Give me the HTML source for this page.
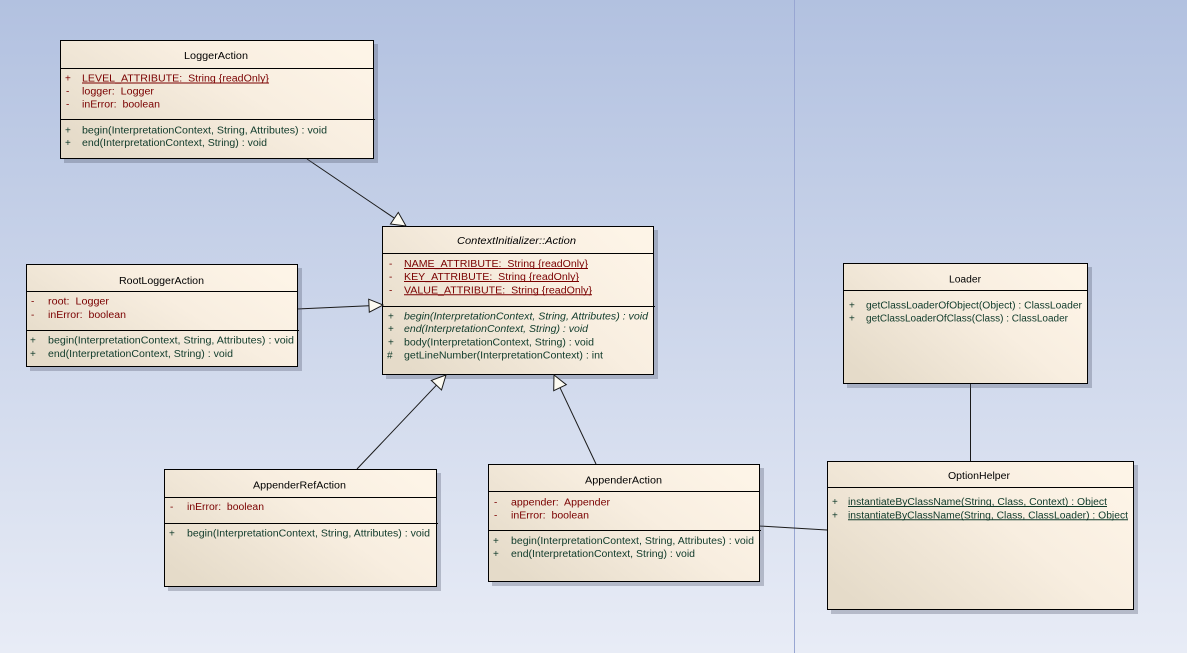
<!DOCTYPE html>
<html><head><meta charset="utf-8"><style>
html,body{margin:0;padding:0;width:1187px;height:653px;overflow:hidden;}
svg{display:block;}
text{font-family:"Liberation Sans",Arial,sans-serif;font-size:10px;white-space:pre;}
.t{fill:#000;}
.a{fill:#7a0000;}
.m{fill:#0f3a2a;}
.i{font-style:italic;}
</style></head><body>
<svg width="1187" height="653" viewBox="0 0 1187 653" xmlns="http://www.w3.org/2000/svg" xml:space="preserve">
<defs>
<linearGradient id="bg" x1="0" y1="0" x2="0" y2="1">
<stop offset="0" stop-color="#b2c1e0"/>
<stop offset="1" stop-color="#e8ecf6"/>
</linearGradient>
<linearGradient id="bx" x1="0" y1="0.8" x2="1" y2="0.2">
<stop offset="0" stop-color="#e5dbc9"/>
<stop offset="0.6" stop-color="#f8eee0"/>
<stop offset="1" stop-color="#fdf4e7"/>
</linearGradient>
</defs>
<rect x="0" y="0" width="1187" height="653" fill="url(#bg)"/>
<line x1="794.5" y1="0" x2="794.5" y2="653" stroke="#98a6d2" stroke-width="1"/>

<g stroke="#1a1a1a" stroke-width="1" fill="none">
<line x1="307" y1="159" x2="394.4" y2="218.2"/>
<line x1="297" y1="309" x2="369" y2="305.7"/>
<line x1="357" y1="469" x2="436.4" y2="385.2"/>
<line x1="596" y1="464" x2="560" y2="387.7"/>
<line x1="759" y1="526" x2="827" y2="530"/>
<line x1="970.5" y1="383" x2="970.5" y2="461"/>
</g>

<g fill="rgba(80,86,110,0.32)">
<rect x="64" y="44" width="314" height="119"/>
<rect x="386" y="230" width="272" height="149"/>
<rect x="30" y="268" width="272" height="103"/>
<rect x="168" y="473" width="273" height="118"/>
<rect x="492" y="468" width="272" height="118"/>
<rect x="847" y="267" width="245" height="121"/>
<rect x="831" y="465" width="307" height="149"/>
</g>

<g fill="url(#bx)" stroke="#000" stroke-width="1">
<rect x="60.5" y="40.5" width="313" height="118"/>
<rect x="382.5" y="226.5" width="271" height="148"/>
<rect x="26.5" y="264.5" width="271" height="102"/>
<rect x="164.5" y="469.5" width="272" height="117"/>
<rect x="488.5" y="464.5" width="271" height="117"/>
<rect x="843.5" y="263.5" width="244" height="120"/>
<rect x="827.5" y="461.5" width="306" height="148"/>
</g>
<g stroke="#000" stroke-width="1">
<line x1="60" y1="68.5" x2="374" y2="68.5"/>
<line x1="60" y1="119.5" x2="375" y2="119.5"/>
<line x1="382" y1="253.5" x2="654" y2="253.5"/>
<line x1="382" y1="306.5" x2="655" y2="306.5"/>
<line x1="26" y1="291.5" x2="298" y2="291.5"/>
<line x1="26" y1="330.5" x2="299" y2="330.5"/>
<line x1="164" y1="497.5" x2="437" y2="497.5"/>
<line x1="164" y1="523.5" x2="438" y2="523.5"/>
<line x1="488" y1="491.5" x2="760" y2="491.5"/>
<line x1="488" y1="530.5" x2="761" y2="530.5"/>
<line x1="843" y1="290.5" x2="1088" y2="290.5"/>
<line x1="827" y1="487.5" x2="1134" y2="487.5"/>
</g>

<g fill="#fdfbf2" stroke="#1a1a1a" stroke-width="1" stroke-linejoin="miter">
<polygon points="406,226 390.5,224 398.3,212.4"/>
<polygon points="383,305 369.3,312.2 368.7,299.2"/>
<polygon points="446,375 441.5,390 431.3,380.4"/>
<polygon points="554,375 566.3,384.7 553.7,390.7"/>
</g>

<text class="t" x="184" y="59.2" textLength="64" lengthAdjust="spacingAndGlyphs">LoggerAction</text>
<text class="a" x="65" y="81.7">+</text>
<text class="a" x="82" y="81.7" textLength="187" lengthAdjust="spacingAndGlyphs">LEVEL_ATTRIBUTE:  String {readOnly}</text>
<line x1="82" y1="83" x2="269" y2="83" stroke="#7a0000" stroke-width="1"/>
<text class="a" x="66" y="94.4">-</text>
<text class="a" x="82" y="94.4" textLength="72" lengthAdjust="spacingAndGlyphs">logger:  Logger</text>
<text class="a" x="66" y="107.4">-</text>
<text class="a" x="82" y="107.4" textLength="78" lengthAdjust="spacingAndGlyphs">inError:  boolean</text>
<text class="m" x="65" y="133.4">+</text>
<text class="m" x="82" y="133.4" textLength="245" lengthAdjust="spacingAndGlyphs">begin(InterpretationContext, String, Attributes) : void</text>
<text class="m" x="65" y="146.1">+</text>
<text class="m" x="82" y="146.1" textLength="185" lengthAdjust="spacingAndGlyphs">end(InterpretationContext, String) : void</text>

<text class="t i" x="457" y="244.1" textLength="119" lengthAdjust="spacingAndGlyphs">ContextInitializer::Action</text>
<text class="a" x="389" y="267.1">-</text>
<text class="a" x="404" y="267.1" textLength="184" lengthAdjust="spacingAndGlyphs">NAME_ATTRIBUTE:  String {readOnly}</text>
<line x1="404" y1="268.5" x2="588" y2="268.5" stroke="#7a0000" stroke-width="1"/>
<text class="a" x="389" y="280.1">-</text>
<text class="a" x="404" y="280.1" textLength="175" lengthAdjust="spacingAndGlyphs">KEY_ATTRIBUTE:  String {readOnly}</text>
<line x1="404" y1="281.5" x2="579" y2="281.5" stroke="#7a0000" stroke-width="1"/>
<text class="a" x="389" y="293.4">-</text>
<text class="a" x="404" y="293.4" textLength="188" lengthAdjust="spacingAndGlyphs">VALUE_ATTRIBUTE:  String {readOnly}</text>
<line x1="404" y1="294.8" x2="592" y2="294.8" stroke="#7a0000" stroke-width="1"/>
<text class="m" x="388" y="319.4">+</text>
<text class="m i" x="404" y="319.4" textLength="244" lengthAdjust="spacingAndGlyphs">begin(InterpretationContext, String, Attributes) : void</text>
<text class="m" x="388" y="332.1">+</text>
<text class="m i" x="404" y="332.1" textLength="184" lengthAdjust="spacingAndGlyphs">end(InterpretationContext, String) : void</text>
<text class="m" x="388" y="345.4">+</text>
<text class="m" x="404" y="345.4" textLength="190" lengthAdjust="spacingAndGlyphs">body(InterpretationContext, String) : void</text>
<text class="m" x="387" y="358.4">#</text>
<text class="m" x="404" y="358.4" textLength="199" lengthAdjust="spacingAndGlyphs">getLineNumber(InterpretationContext) : int</text>

<text class="t" x="119" y="284.1" textLength="85" lengthAdjust="spacingAndGlyphs">RootLoggerAction</text>
<text class="a" x="31" y="304.7">-</text>
<text class="a" x="48" y="304.7" textLength="61" lengthAdjust="spacingAndGlyphs">root:  Logger</text>
<text class="a" x="31" y="318.1">-</text>
<text class="a" x="48" y="318.1" textLength="78" lengthAdjust="spacingAndGlyphs">inError:  boolean</text>
<text class="m" x="30" y="343.7">+</text>
<text class="m" x="48" y="343.7" textLength="246" lengthAdjust="spacingAndGlyphs">begin(InterpretationContext, String, Attributes) : void</text>
<text class="m" x="30" y="357.1">+</text>
<text class="m" x="48" y="357.1" textLength="185" lengthAdjust="spacingAndGlyphs">end(InterpretationContext, String) : void</text>

<text class="t" x="253" y="488.4" textLength="93" lengthAdjust="spacingAndGlyphs">AppenderRefAction</text>
<text class="a" x="170" y="510.1">-</text>
<text class="a" x="187" y="510.1" textLength="77" lengthAdjust="spacingAndGlyphs">inError:  boolean</text>
<text class="m" x="169" y="536.7">+</text>
<text class="m" x="187" y="536.7" textLength="243" lengthAdjust="spacingAndGlyphs">begin(InterpretationContext, String, Attributes) : void</text>

<text class="t" x="585" y="483.4" textLength="77" lengthAdjust="spacingAndGlyphs">AppenderAction</text>
<text class="a" x="494" y="505.4">-</text>
<text class="a" x="511" y="505.4" textLength="99" lengthAdjust="spacingAndGlyphs">appender:  Appender</text>
<text class="a" x="494" y="518.4">-</text>
<text class="a" x="511" y="518.4" textLength="78" lengthAdjust="spacingAndGlyphs">inError:  boolean</text>
<text class="m" x="493" y="544.1">+</text>
<text class="m" x="511" y="544.1" textLength="243" lengthAdjust="spacingAndGlyphs">begin(InterpretationContext, String, Attributes) : void</text>
<text class="m" x="493" y="557.1">+</text>
<text class="m" x="511" y="557.1" textLength="184" lengthAdjust="spacingAndGlyphs">end(InterpretationContext, String) : void</text>

<text class="t" x="949" y="282.4" textLength="32" lengthAdjust="spacingAndGlyphs">Loader</text>
<text class="m" x="849" y="308.4">+</text>
<text class="m" x="866" y="308.4" textLength="216" lengthAdjust="spacingAndGlyphs">getClassLoaderOfObject(Object) : ClassLoader</text>
<text class="m" x="849" y="321.4">+</text>
<text class="m" x="866" y="321.4" textLength="202" lengthAdjust="spacingAndGlyphs">getClassLoaderOfClass(Class) : ClassLoader</text>

<text class="t" x="948" y="479.1" textLength="62" lengthAdjust="spacingAndGlyphs">OptionHelper</text>
<text class="m" x="832" y="505.1">+</text>
<text class="m" x="848" y="505.1" textLength="259" lengthAdjust="spacingAndGlyphs">instantiateByClassName(String, Class, Context) : Object</text>
<line x1="848" y1="506.5" x2="1107" y2="506.5" stroke="#0f3a2a" stroke-width="1"/>
<text class="m" x="832" y="518.4">+</text>
<text class="m" x="848" y="518.4" textLength="280" lengthAdjust="spacingAndGlyphs">instantiateByClassName(String, Class, ClassLoader) : Object</text>
<line x1="848" y1="519.8" x2="1128" y2="519.8" stroke="#0f3a2a" stroke-width="1"/>
</svg>
</body></html>
